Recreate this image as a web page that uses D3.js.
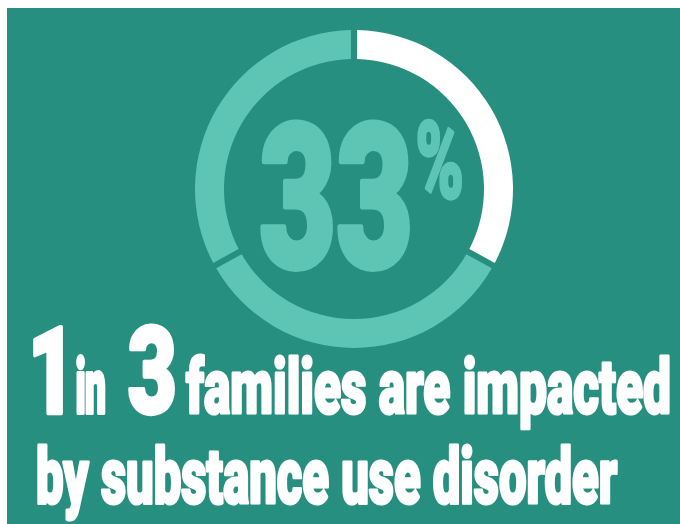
<!DOCTYPE html>
<html>
<head>
<meta charset="utf-8">
<script src="https://cdn.jsdelivr.net/npm/d3@7"></script>
<style>
  html, body { margin: 0; padding: 0; background: #ffffff; }
  svg { display: block; }
</style>
</head>
<body>
<div id="chart"></div>
<script>
// ring data: share of families (impacted first, drawn white)
const segmentNames = ["impacted", "not impacted A", "not impacted B"];
const segmentValues = [33, 34, 33];
const headlineValue = "33";
const headlineUnit = "%";
const captionLine1 = ["1", "in", "3", "families are impacted"];
const captionLine2 = "by substance use disorder";

const W = 680, H = 524;
const colors = {
  bg: "#268f7f",
  light: "#5ec4b4",
  white: "#ffffff"
};
const FONT = "Roboto, 'DejaVu Sans', sans-serif";

const svg = d3.select("#chart").append("svg")
  .attr("width", W)
  .attr("height", H);

// teal panel
svg.append("rect")
  .attr("x", 7)
  .attr("y", 8)
  .attr("width", W - 7)
  .attr("height", H - 8)
  .attr("fill", colors.bg);

// ring
const ring = svg.append("g")
  .attr("transform", "translate(354,189)");

const pie = d3.pie().sort(null).value(d => d).padAngle(0.03);
const arc = d3.arc().innerRadius(130).outerRadius(159);
const colorScale = d3.scaleOrdinal()
  .domain(segmentNames)
  .range([colors.white, colors.light, colors.light]);

ring.selectAll("path")
  .data(pie(segmentValues))
  .enter()
  .append("path")
  .attr("d", arc)
  .attr("fill", (d, i) => colorScale(segmentNames[i]));

// measure ink with canvas so condensed text lands where it should
const ctx = document.createElement("canvas").getContext("2d");

function fitText(str, box, fill, sw, spacing) {
  sw = sw || 0;
  ctx.font = `900 100px ${FONT}`;
  const m = ctx.measureText(str);
  const asc = m.actualBoundingBoxAscent;
  // stroke grows the ink by sw/2 on every side
  const x0 = box.x0 + sw / 2, x1 = box.x1 - sw / 2;
  const size = box.size || 100 * (box.base - box.top - sw / 2) / asc;
  const k = size / 100;
  const inkW = (m.actualBoundingBoxLeft + m.actualBoundingBoxRight) * k;
  const sx = (x1 - x0) / inkW;
  const tx = x0 + m.actualBoundingBoxLeft * k * sx;
  const t = svg.append("text")
    .attr("transform", `translate(${tx},${box.base}) scale(${sx},1)`)
    .attr("font-family", FONT)
    .attr("font-weight", 900)
    .attr("font-size", size)
    .attr("fill", fill)
    .attr("stroke", fill)
    .attr("stroke-width", sw / sx)
    .attr("stroke-linejoin", "round")
    .text(str);
  if (spacing) t.attr("letter-spacing", spacing);
  return size;
}

function draw() {
  // big number in the ring
  fitText(headlineValue, { x0: 260, x1: 410, top: 120, base: 267 }, colors.light, 4);
  fitText(headlineUnit, { x0: 417, x1: 462, top: 120, base: 198 }, colors.light, 2);

  // caption line 1 (small words share one size)
  const small = fitText(captionLine1[3], { x0: 185, x1: 670, top: 353, base: 413 }, colors.white, 2);
  fitText(captionLine1[0], { x0: 33, x1: 63, top: 325, base: 413 }, colors.white, 3, "-0.12em");
  fitText(captionLine1[1], { x0: 76, x1: 106, size: small, base: 413 }, colors.white, 2, "-0.02em");
  fitText(captionLine1[2], { x0: 128, x1: 175, top: 325, base: 413 }, colors.white, 3, "-0.08em");

  // caption line 2
  fitText(captionLine2, { x0: 37, x1: 618, top: 444, base: 503 }, colors.white, 2);
}

if (document.fonts && document.fonts.load) {
  document.fonts.load(`900 100px Roboto`).then(draw, draw);
} else {
  draw();
}
</script>
</body>
</html>
